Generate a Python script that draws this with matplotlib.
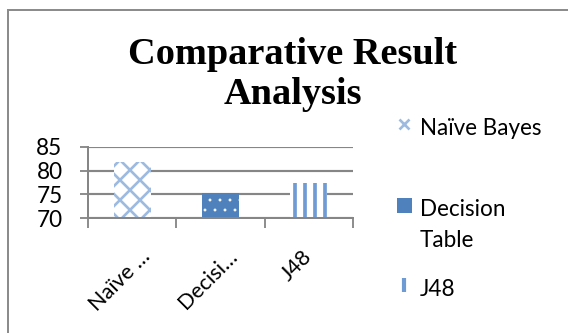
import matplotlib
matplotlib.use("Agg")
import matplotlib.pyplot as plt
from matplotlib.lines import Line2D
from matplotlib.patches import Rectangle
from matplotlib.transforms import ScaledTranslation

# Data
categories = ["Naïve Bayes", "Decision Table", "J48"]
tick_labels = ["Naïve \u2026", "Decisi\u2026", "J48"]
legend_lines = [["Naïve Bayes"], ["Decision", "Table"], ["J48"]]
scores = [81.8, 75.3, 77.5]
y_ticks = [70, 75, 80, 85]

DPI = 120
W, H = 568, 333
GRAY = "#868686"
BLUE = "#4F81BD"
LIGHT_BLUE = "#9DBBE0"
LINE_BLUE = "#6E9BD4"

plt.rcParams["font.family"] = ["Lato", "DejaVu Sans"]

fig = plt.figure(figsize=(W / DPI, H / DPI), dpi=DPI)
fig.patch.set_facecolor("white")

# outer chart border (only top and left edges fall inside the canvas)
fig.add_artist(Rectangle((8 / W, -0.1), 1.2, 1 - 10 / H + 0.1,
                         transform=fig.transFigure, fill=False,
                         edgecolor="#8C8C8C", linewidth=1.2))

ax = fig.add_axes([88 / W, 1 - 218.3 / H, (353 - 88) / W, (218.3 - 146.7) / H])
ax.set_axisbelow(True)

styles = [
    dict(facecolor="white", edgecolor=LIGHT_BLUE, hatch="xx", hlw=1.6),
    dict(facecolor=BLUE, edgecolor="white", hatch="..", hlw=0.5),
    dict(facecolor="white", edgecolor=LINE_BLUE, hatch="||", hlw=2.2),
]
x = list(range(len(categories)))
for xi, val, st in zip(x, scores, styles):
    with plt.rc_context({"hatch.linewidth": st["hlw"]}):
        b = ax.bar(xi, val - 70, bottom=70, width=0.42,
                   facecolor=st["facecolor"], edgecolor=st["edgecolor"],
                   hatch=st["hatch"], linewidth=0, zorder=2)
    for p in b.patches:
        if hasattr(p, "set_hatch_linewidth"):
            p.set_hatch_linewidth(st["hlw"])

ax.set_xlim(-0.5, 2.5)
ax.set_ylim(70, 85)
ax.set_yticks(y_ticks)
ax.yaxis.grid(True, color=GRAY, linewidth=1.3)
ax.tick_params(axis="y", length=4.8, width=1.1, color=GRAY, pad=10.5,
               labelsize=13.5, labelcolor="black")

ax.set_xticks(x)
ax.set_xticklabels(tick_labels, rotation=45, ha="center", va="top",
                   fontsize=13)
ax.set_xticks([-0.5, 0.5, 1.5, 2.5], minor=True)
ax.tick_params(axis="x", which="major", length=0, pad=17)
ax.tick_params(axis="x", which="minor", length=6, width=1.1, color=GRAY)

# nudge the rotated category labels to the left
shift = ScaledTranslation(-12 / DPI, 0, fig.dpi_scale_trans)
for lbl in ax.get_xticklabels():
    lbl.set_transform(lbl.get_transform() + shift)

for side in ("top", "right"):
    ax.spines[side].set_visible(False)
for side in ("left", "bottom"):
    ax.spines[side].set_color(GRAY)
    ax.spines[side].set_linewidth(1.2)

# title
fig.text(292.5 / W, 1 - 37 / H, "Comparative Result\nAnalysis",
         ha="center", va="top", fontsize=23, fontweight="bold",
         family="Liberation Serif", linespacing=1.18, multialignment="center")

# legend
leg_marker_x = 403.5 / W
leg_text_x = 420 / W
handles = [
    dict(marker="x", color=LIGHT_BLUE, ms=6, mew=1.6, y=124),
    dict(marker="s", color=BLUE, ms=9, mew=0, y=204.5),
    dict(marker="|", color=LINE_BLUE, ms=8, mew=2.5, y=284.5),
]
text_baselines = [[135], [216, 247.3], [296]]
for lines, h, ybs in zip(legend_lines, handles, text_baselines):
    fig.add_artist(Line2D([leg_marker_x], [1 - h["y"] / H], marker=h["marker"],
                          color=h["color"], markersize=h["ms"],
                          markeredgewidth=h["mew"], linestyle="none",
                          transform=fig.transFigure))
    for line, yb in zip(lines, ybs):
        fig.text(leg_text_x, 1 - yb / H, line, ha="left", va="baseline",
                 fontsize=13.5)

fig.savefig("out.png", dpi=DPI, facecolor="white")
